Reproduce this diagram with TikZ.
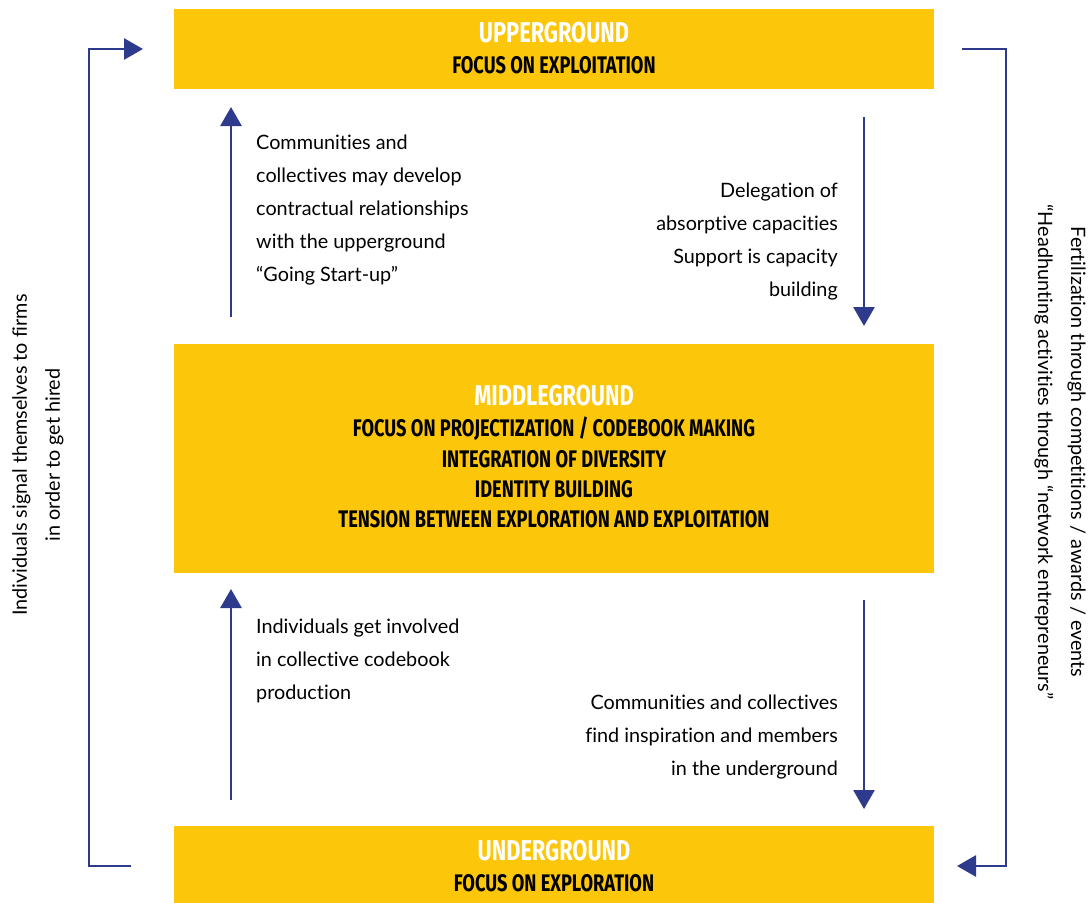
\documentclass[tikz,border=0pt]{standalone}
\usepackage{fontspec}
\setmainfont[Ligatures=NoCommon]{Lato}
\newfontfamily\headfont[FakeStretch=0.76]{Fira Sans Bold}
\usetikzlibrary{arrows.meta}
\definecolor{gold}{HTML}{FCC60A}
\definecolor{navy}{HTML}{2E3A8C}
\begin{document}
\begin{tikzpicture}[x=1pt,y=-1pt,
  band/.style={fill=gold,draw=none},
  bigtitle/.style={font=\headfont\fontsize{28.7}{30}\selectfont,text=white,inner sep=0},
  subtitle/.style={font=\headfont\fontsize{24}{30.3}\selectfont,text=black,inner sep=0,align=center},
  body/.style={font=\fontsize{19.8}{33}\selectfont,inner sep=0},
  flow/.style={draw=navy,line width=2.8pt,-{Triangle[width=21pt,length=19pt]},navy},
  loop/.style={draw=navy,line width=2.8pt,-{Triangle[width=21pt,length=19pt]},navy,line join=miter}]
\useasboundingbox (0,0) rectangle (1088,903);
% boxes
\fill[band] (174,9) rectangle (934,89);
\fill[band] (174,344) rectangle (934,573);
\fill[band] (174,826) rectangle (934,903);
% titles
\node[bigtitle] (ut) at (554,33) {UPPERGROUND};
\node[subtitle] (us) at (554,65) {FOCUS ON EXPLOITATION};
\node[bigtitle] (mt) at (554,396) {MIDDLEGROUND};
\node[subtitle,anchor=north] (ms) at (554,417) {FOCUS ON PROJECTIZATION / CODEBOOK MAKING\\INTEGRATION OF DIVERSITY\\IDENTITY BUILDING\\TENSION BETWEEN EXPLORATION AND EXPLOITATION};
\node[bigtitle] (dt) at (554,851) {UNDERGROUND};
\node[subtitle] (ds) at (554,883) {FOCUS ON EXPLORATION};
% body texts
\node[body,anchor=north west,align=left] (t1) at (256,135) {Communities and\\collectives may develop\\contractual relationships\\with the upperground\\“Going Start-up”};
\node[body,anchor=north east,align=right] (t2) at (838,183) {Delegation of\\absorptive capacities\\Support is capacity\\building};
\node[body,anchor=north west,align=left] (t3) at (256,619) {Individuals get involved\\in collective codebook\\production};
\node[body,anchor=north east,align=right] (t4) at (838,695) {Communities and collectives\\find inspiration and members\\in the underground};
\node[body,rotate=90,align=center] (t5) at (38,455) {Individuals signal themselves to firms\\in order to get hired};
\node[body,rotate=-90,align=center] (t6) at (1060,452) {Fertilization through competitions / awards / events\\“Headhunting activities through “network entrepreneurs”};
% vertical arrows
\coordinate (a1s) at (231,317); \coordinate (a1e) at (231,107);
\coordinate (a2s) at (864,117); \coordinate (a2e) at (864,326);
\coordinate (a3s) at (231,800); \coordinate (a3e) at (231,589);
\coordinate (a4s) at (864,600); \coordinate (a4e) at (864,809);
\draw[flow] (a1s) -- (a1e);
\draw[flow] (a2s) -- (a2e);
\draw[flow] (a3s) -- (a3e);
\draw[flow] (a4s) -- (a4e);
% loops
\coordinate (l1s) at (131,866); \coordinate (l1e) at (143,49);
\draw[loop] (l1s) -- (89,866) -- (89,49) -- (l1e);
\coordinate (l2s) at (962,49); \coordinate (l2e) at (957,866);
\draw[loop] (l2s) -- (1006,49) -- (1006,866) -- (l2e);
\end{tikzpicture}
\end{document}
